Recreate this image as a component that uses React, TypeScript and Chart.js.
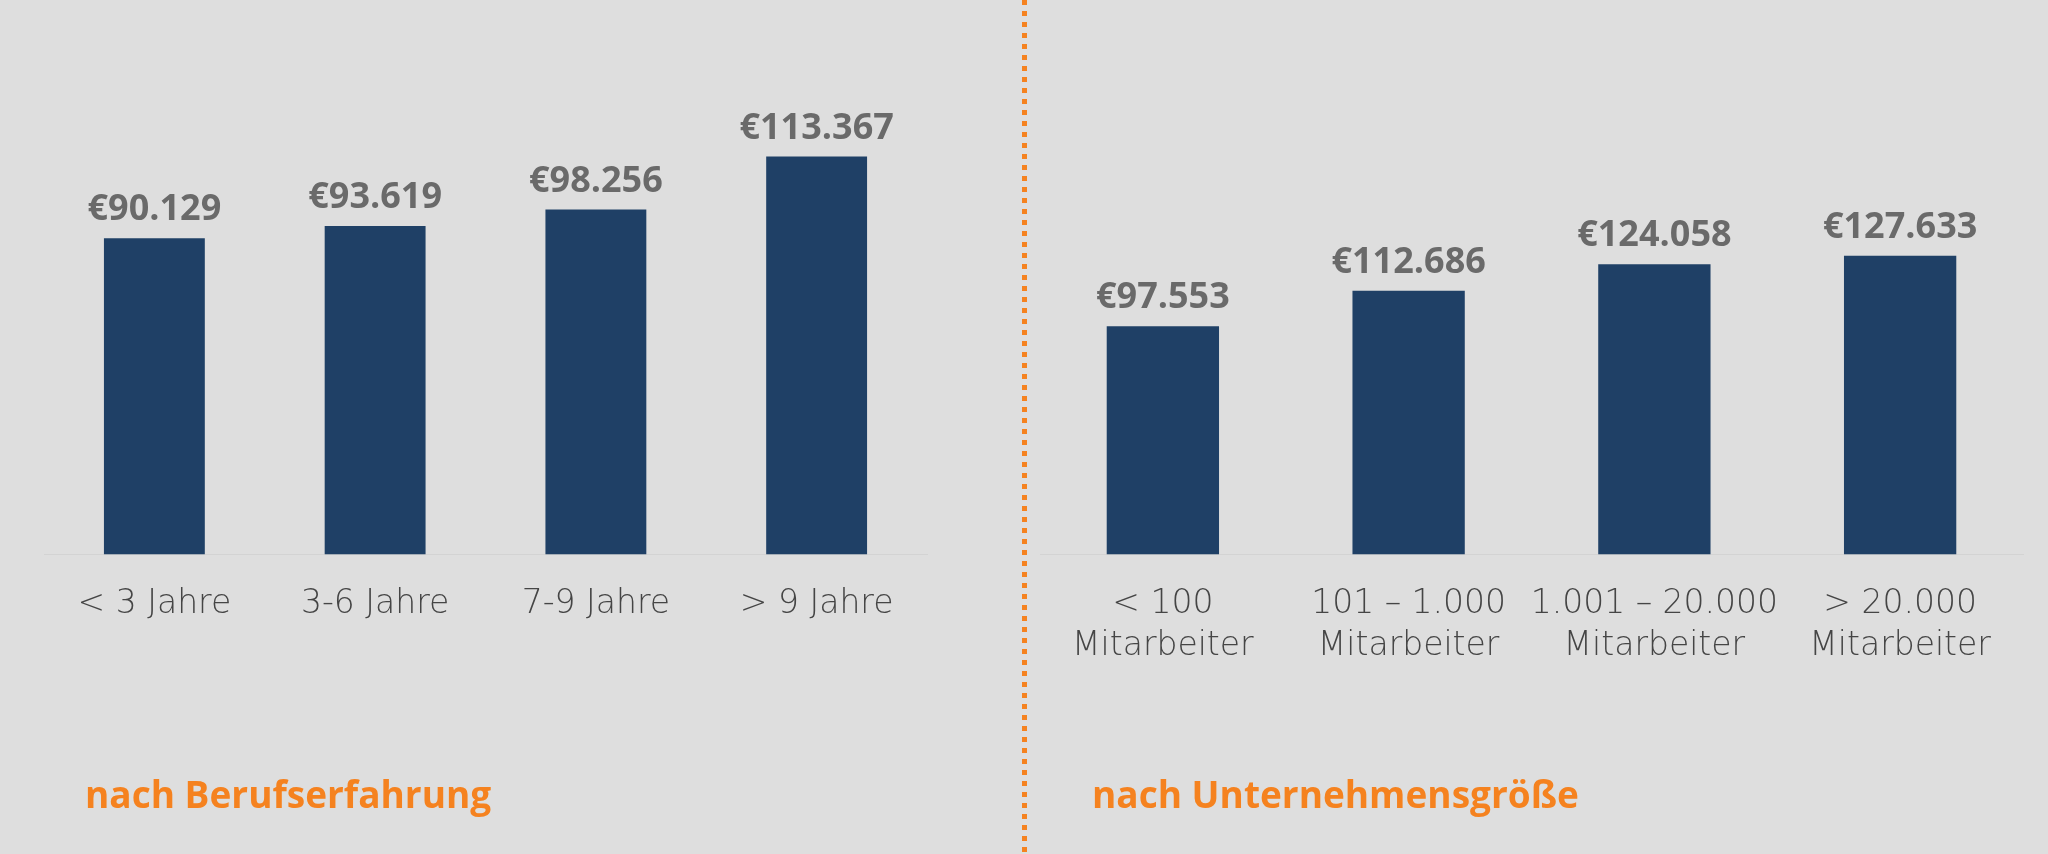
import React, { useEffect, useRef } from 'react';
import { Chart, registerables } from 'chart.js';

Chart.register(...registerables);

// ---- data ----
const experienceCategories: string[] = ['< 3 Jahre', '3-6 Jahre', '7-9 Jahre', '> 9 Jahre'];
const experienceSalaries: number[] = [90129, 93619, 98256, 113367];
const experienceTitle = 'nach Berufserfahrung';

const companyCategories: string[][] = [
  ['< 100', 'Mitarbeiter'],
  ['101 – 1.000', 'Mitarbeiter'],
  ['1.001 – 20.000', 'Mitarbeiter'],
  ['> 20.000', 'Mitarbeiter'],
];
const companySalaries: number[] = [97553, 112686, 124058, 127633];
const companyTitle = 'nach Unternehmensgröße';

// ---- styles ----
const BG = '#DEDEDE';
const BAR = '#1F4066';
const ORANGE = '#F5821F';
const VALUE_GREY = '#6A6A6A';
const TICK_GREY = '#454545';
const FONT = '"Open Sans", "Noto Sans", sans-serif';
const TICK_FONT = '"DejaVu Sans", "Open Sans", sans-serif';

function formatEuro(v: number): string {
  const s = Math.round(v).toString();
  let out = '';
  for (let i = 0; i < s.length; i++) {
    const fromEnd = s.length - i;
    out += s[i];
    if (fromEnd > 1 && (fromEnd - 1) % 3 === 0) out += '.';
  }
  return '€' + out;
}

const valueLabelPlugin = {
  id: 'valueLabels',
  afterDatasetsDraw(chart: any) {
    const ctx = chart.ctx;
    const meta = chart.getDatasetMeta(0);
    const data = chart.data.datasets[0].data as number[];
    ctx.save();
    ctx.font = `700 36px ${FONT}`;
    ctx.fillStyle = VALUE_GREY;
    ctx.textAlign = 'center';
    ctx.textBaseline = 'alphabetic';
    meta.data.forEach((el: any, i: number) => {
      ctx.fillText(formatEuro(data[i]), el.x, el.y - 18);
    });
    ctx.restore();
  },
};

const panelTitlePlugin = {
  id: 'panelTitle',
  afterDraw(chart: any, _args: any, opts: any) {
    if (!opts || !opts.text) return;
    const ctx = chart.ctx;
    ctx.save();
    ctx.font = `700 37px ${FONT}`;
    ctx.fillStyle = ORANGE;
    ctx.textAlign = 'left';
    ctx.textBaseline = 'alphabetic';
    ctx.fillText(opts.text, opts.x, opts.y);
    ctx.restore();
  },
};

interface PanelProps {
  labels: any[];
  values: number[];
  yMax: number;
  padLeft: number;
  padRight: number;
  title: string;
  titleX: number;
  left: number;
}

function Panel({ labels, values, yMax, padLeft, padRight, title, titleX, left }: PanelProps) {
  const ref = useRef<HTMLCanvasElement | null>(null);
  useEffect(() => {
    if (!ref.current) return;
    const chart = new Chart(ref.current, {
      type: 'bar',
      data: {
        labels,
        datasets: [
          {
            data: values,
            backgroundColor: BAR,
            borderWidth: 0,
            categoryPercentage: 1,
            barPercentage: 0.457,
          },
        ],
      },
      options: {
        responsive: false,
        animation: false,
        devicePixelRatio: 1,
        layout: { padding: { left: padLeft, right: padRight, top: 28, bottom: 0 } },
        plugins: {
          legend: { display: false },
          tooltip: { enabled: false },
          title: { display: false },
          panelTitle: { text: title, x: titleX, y: 808 },
        } as any,
        scales: {
          x: {
            grid: { display: false, drawTicks: false },
            border: { display: true, color: '#D3D3D3', width: 1 },
            ticks: {
              autoSkip: false,
              maxRotation: 0,
              minRotation: 0,
              padding: 29,
              color: TICK_GREY,
              font: { family: TICK_FONT, size: 33, weight: '200' as any, lineHeight: 1.27 },
            },
            afterFit: (scale: any) => {
              scale.height = 299.5;
            },
          },
          y: {
            display: false,
            min: 0,
            max: yMax,
          },
        },
      },
      plugins: [valueLabelPlugin, panelTitlePlugin],
    });
    return () => chart.destroy();
  }, []);
  return (
    <canvas
      ref={ref}
      width={1024}
      height={854}
      style={{ position: 'absolute', left, top: 0, width: 1024, height: 854 }}
    />
  );
}

export default function App() {
  useEffect(() => {
    document.body.style.margin = '0';
    document.body.style.background = BG;
  }, []);
  return (
    <div style={{ position: 'relative', width: 2048, height: 854, background: BG, overflow: 'hidden' }}>
      <Panel
        labels={experienceCategories}
        values={experienceSalaries}
        yMax={150000}
        padLeft={44}
        padRight={97}
        title={experienceTitle}
        titleX={85}
        left={0}
      />
      <Panel
        labels={companyCategories}
        values={companySalaries}
        yMax={225000}
        padLeft={16}
        padRight={25}
        title={companyTitle}
        titleX={68}
        left={1024}
      />
      <div
        style={{
          position: 'absolute',
          left: 1021.5,
          top: 0,
          width: 5,
          height: 854,
          background: `repeating-linear-gradient(to bottom, ${ORANGE} 0px, ${ORANGE} 5px, transparent 5px, transparent 11px)`,
        }}
      />
    </div>
  );
}
